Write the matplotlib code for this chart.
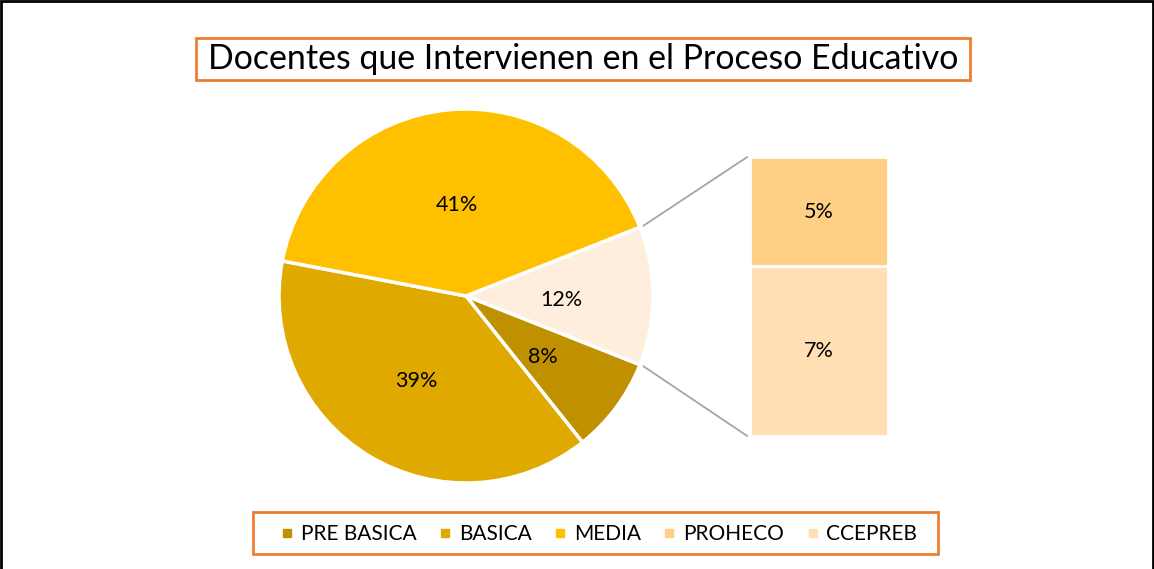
import numpy as np
import matplotlib.pyplot as plt
from matplotlib.patches import ConnectionPatch, Rectangle
from matplotlib.lines import Line2D

plt.rcParams['font.family'] = ['Lato', 'DejaVu Sans']

# data (percent)
pie_labels = ['PRE BASICA', 'BASICA', 'MEDIA']
pie_values = [8.3, 38.7, 41.0]
bar_labels = ['PROHECO', 'CCEPREB']
bar_values = [4.7, 7.3]

pie_colors = ['#BF9000', '#E0A900', '#FFC000']
other_color = '#FFEEDD'
bar_colors = ['#FFCF86', '#FFDFB3']
orange = '#ED7D31'

W, H = 1154, 569
fig = plt.figure(figsize=(W / 100, H / 100), dpi=100)


def px_box(x0, y0, x1, y1, **kw):
    # rectangle given in pixel coords (top-left origin)
    fig.patches.append(Rectangle((x0 / W, 1 - y1 / H), (x1 - x0) / W, (y1 - y0) / H,
                                 transform=fig.transFigure, **kw))


# black outer frame
px_box(1, 1, W - 1, H + 20, fill=False, edgecolor='black', lw=2)

# main pie (center 466,296 px, radius 187 px)
cx, cy, r = 466, 296, 187
ax = fig.add_axes([(cx - r) / W, (H - cy - r) / H, 2 * r / W, 2 * r / H])
other = sum(bar_values)
vals = [other] + pie_values
cols = [other_color] + pie_colors
start = other / 100 * 360 / 2
wedges, texts, autotexts = ax.pie(vals, colors=cols, startangle=start,
                                  counterclock=False, radius=1,
                                  autopct='%.0f%%', pctdistance=0.51,
                                  wedgeprops=dict(edgecolor='white', linewidth=2.5),
                                  textprops=dict(fontsize=15.5, color='black'))
for t in autotexts:
    x, y = t.get_position()
    t.set_position((x, y - 0.02))
ax.set_xlim(-1, 1)
ax.set_ylim(-1, 1)
ax.set_aspect('equal')
ax.axis('off')

# bar of pie (x 750-888, y 157-436 px)
bx0, bx1, by0, by1 = 750, 888, 157, 436
bax = fig.add_axes([bx0 / W, (H - by1) / H, (bx1 - bx0) / W, (by1 - by0) / H])
bottom = 0
for lab, v, c in zip(bar_labels[::-1], bar_values[::-1], bar_colors[::-1]):
    bax.bar(0, v, width=1, bottom=bottom, color=c, edgecolor='white', linewidth=2)
    bax.text(0, bottom + v / 2, '%.0f%%' % v, ha='center', va='center', fontsize=15.5)
    bottom += v
bax.set_xlim(-0.5, 0.5)
bax.set_ylim(0, other)
bax.axis('off')

# connector lines
theta = np.deg2rad(start)
for sgn, yb in [(1, other), (-1, 0)]:
    p = (1.02 * np.cos(theta), sgn * 1.02 * np.sin(theta))
    con = ConnectionPatch(xyA=p, coordsA=ax.transData, xyB=(-0.52, yb),
                          coordsB=bax.transData, color='#A6A6A6', lw=1.3)
    fig.add_artist(con)

# title
px_box(196, 38, 970, 80, facecolor='white', edgecolor=orange, lw=2)
fig.text(583 / W, 1 - 59 / H, 'Docentes que Intervienen en el Proceso Educativo',
         ha='center', va='center', fontsize=24.4)

# legend
px_box(253, 512, 938, 554, facecolor='white', edgecolor=orange, lw=2)
handles = [Line2D([], [], marker='s', ls='none', color=c, markersize=6)
           for c in pie_colors + bar_colors]
leg = fig.legend(handles, pie_labels + bar_labels, loc='center',
                 bbox_to_anchor=(599 / W, 1 - 534 / H), ncol=5, fontsize=15,
                 frameon=False, handlelength=0.6, handletextpad=0.36,
                 columnspacing=1.07, borderpad=0.3)

fig.savefig('out.png', dpi=100)
